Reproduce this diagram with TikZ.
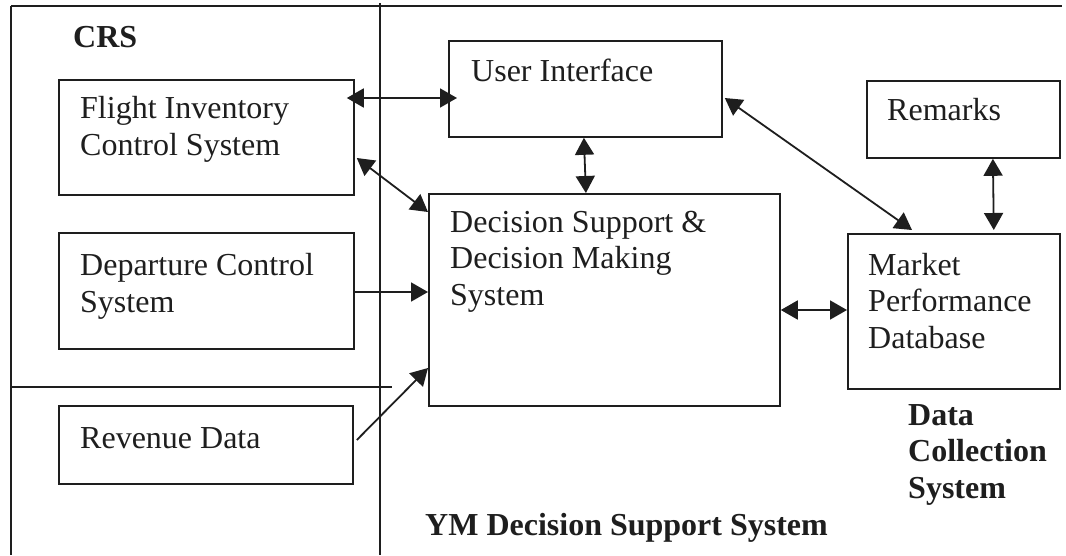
\documentclass[tikz,border=0pt]{standalone}
\usepackage{fontspec}
\setmainfont{Liberation Serif}
\usetikzlibrary{arrows.meta}
\definecolor{ink}{HTML}{1E1E1E}
\begin{document}
\begin{tikzpicture}[x=1pt,y=-1pt,
  box/.style={draw=ink,line width=1.8pt,rectangle,inner sep=0pt,anchor=north west},
  % multi-line texts are placed by the baseline of their last line
  txt/.style={text=ink,inner sep=0pt,anchor=base west,align=left,
    font=\fontsize{32}{36.5}\selectfont},
  title/.style={txt,font=\fontsize{32}{36.5}\selectfont\bfseries},
  frame/.style={draw=ink,line width=1.5pt},
  link/.style={draw=ink,line width=1.8pt,
    -{Triangle[length=17pt,width=19pt,fill=ink]}},
  dlink/.style={draw=ink,line width=1.8pt,
    {Triangle[length=17pt,width=19pt,fill=ink]}-{Triangle[length=17pt,width=19pt,fill=ink]}}]
  % page area
  \useasboundingbox[fill=white] (0,0) rectangle (1066,555);

  % outer frame of the two subsystems
  \coordinate (tl) at (11,6);
  \coordinate (tr) at (1062,6);
  \coordinate (bl) at (11,555);
  \coordinate (mt) at (380,3);
  \coordinate (mb) at (380,555);
  \coordinate (hl) at (11,387);
  \coordinate (hr) at (392,387);
  \draw[frame] (tl) -- (tr);
  \draw[frame] (tl) -- (bl);
  \draw[frame] (mt) -- (mb);
  \draw[frame] (hl) -- (hr);

  % boxes
  \node[box,minimum width=295pt,minimum height=115pt] (fic) at (58,79) {};
  \node[box,minimum width=295pt,minimum height=116pt] (dcs) at (58,232) {};
  \node[box,minimum width=294pt,minimum height=78pt]  (rev) at (58,405) {};
  \node[box,minimum width=273pt,minimum height=96pt]  (ui)  at (448,40) {};
  \node[box,minimum width=351pt,minimum height=212pt] (dss) at (428,193) {};
  \node[box,minimum width=193pt,minimum height=77pt]  (rem) at (866,80) {};
  \node[box,minimum width=212pt,minimum height=155pt] (mpd) at (847,233) {};

  % box texts
  \node[txt] (ficT) at (80,155) {Flight Inventory\\Control System};
  \node[txt] (dcsT) at (80,312) {Departure Control\\System};
  \node[txt] (revT) at (80,448) {Revenue Data};
  \node[txt] (uiT)  at (471,81) {User Interface};
  \node[txt] (dssT) at (450,305) {Decision Support \&\\Decision Making\\System};
  \node[txt] (remT) at (887,120) {Remarks};
  \node[txt] (mpdT) at (868,348) {Market\\Performance\\Database};

  % group titles
  \node[title] (crs) at (73,47) {CRS};
  \node[title] (dcol) at (908,498) {Data\\Collection\\System};
  \node[title] (ym) at (425,535) {YM Decision Support System};

  % connectors
  \draw[dlink] ([shift={(-8,19)}]fic.north east) -- ([shift={(9,58)}]ui.north west);
  \draw[dlink] ([shift={(2,79)}]fic.north east) -- ([shift={(0,19)}]dss.north west);
  \draw[dlink] ([xshift=-1.5pt]ui.south) -- ([xshift=-18.5pt]dss.north);
  \draw[dlink] ([shift={(2,58)}]ui.north east) -- ([shift={(65,-3)}]mpd.north west);
  \draw[dlink] ([xshift=29.5pt]rem.south) -- ([shift={(-67,-3)}]mpd.north east);
  \draw[dlink] ([shift={(0,117)}]dss.north east) -- ([shift={(0,77)}]mpd.north west);
  \draw[link]  ([shift={(0,60)}]dcs.north east) -- ([shift={(0,99)}]dss.north west);
  \draw[link]  ([shift={(3,35)}]rev.north east) -- ([shift={(0,175)}]dss.north west);
\end{tikzpicture}
\end{document}
